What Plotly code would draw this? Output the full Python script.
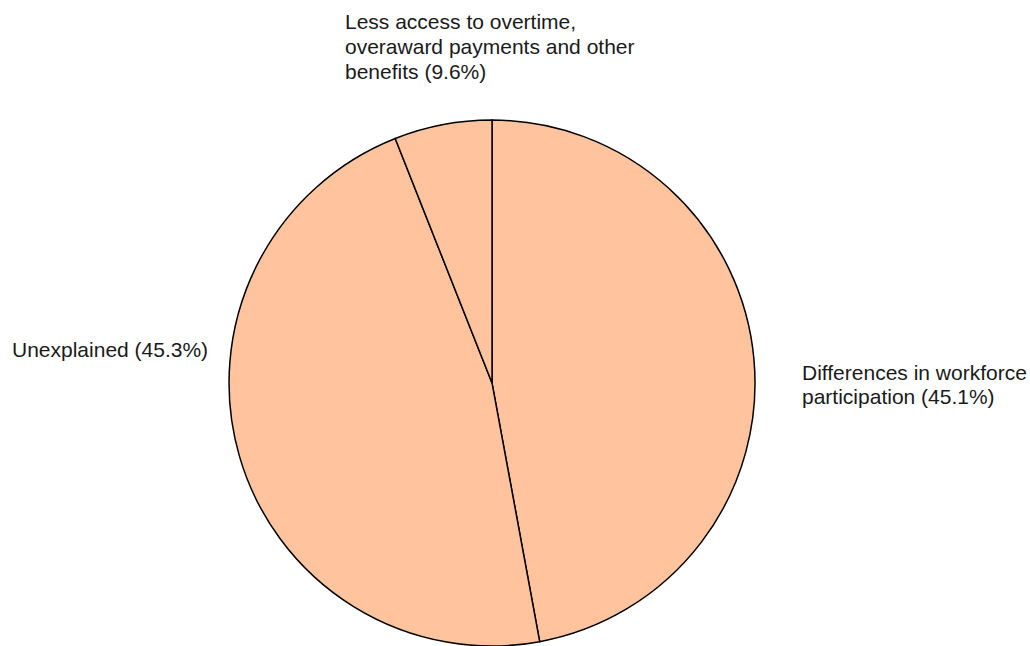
import plotly.graph_objects as go

categories = ["Differences in workforce participation", "Unexplained",
              "Less access to overtime, overaward payments and other benefits"]
values = [47.1, 46.9, 6.0]  # slice sizes as drawn
label_pct = ["45.1%", "45.3%", "9.6%"]

fig = go.Figure(go.Pie(
    labels=categories, values=values, sort=False, direction="clockwise",
    rotation=0, textinfo="none", hoverinfo="label",
    marker=dict(colors=["#FFC49D"] * 3, line=dict(color="#000000", width=1.5)),
    domain=dict(x=[0.2214, 0.7340], y=[0.0, 0.8142]),
    showlegend=False,
))

W, H = 1030, 646
font = dict(family="Liberation Sans, Arial, sans-serif", size=21, color="#1a1a1a")

label_lines = [
    (343, [22, 46.5, 71], ["Less access to overtime,", "overaward payments and other",
                           "benefits (" + label_pct[2] + ")"]),
    (10, [349.5], ["Unexplained (" + label_pct[1] + ")"]),
    (800, [372, 396.5], ["Differences in workforce", "participation (" + label_pct[0] + ")"]),
]
for xpx, ys, lines in label_lines:
    for ypx, txt in zip(ys, lines):
        fig.add_annotation(x=xpx / W, y=1 - ypx / H, xref="paper", yref="paper",
                           text=txt, showarrow=False, xanchor="left", yanchor="middle",
                           align="left", font=font)

fig.update_layout(width=W, height=H, margin=dict(l=0, r=0, t=0, b=0),
                  paper_bgcolor="white", plot_bgcolor="white")
fig.write_html("out.html")
